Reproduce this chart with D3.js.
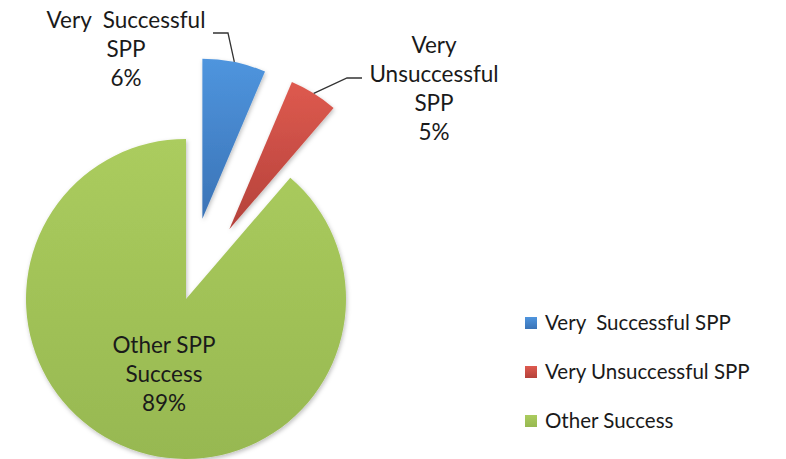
<!DOCTYPE html>
<html>
<head>
<meta charset="utf-8">
<script src="https://cdn.jsdelivr.net/npm/d3@7"></script>
<style>
  html, body { margin: 0; padding: 0; background: #fff; }
  svg { display: block; font-family: Lato, "Open Sans", sans-serif; }
</style>
</head>
<body>
<div id="chart"></div>
<script>
// data
const categories = ['Very  Successful SPP', 'Very Unsuccessful SPP', 'Other Success'];
const values = [6.4, 4.9, 88.7];
const labelLines = [
  ['Very  Successful', 'SPP'],
  ['Very', 'Unsuccessful', 'SPP'],
  ['Other SPP', 'Success']
];
const colors = [
  ['#4f95de', '#3a73b6'],
  ['#de5a4f', '#b4413a'],
  ['#abcc5e', '#97b851']
];

const width = 786, height = 459;
const cx = 186, cy = 299, radius = 160;
const explode = [82, 82, 0];
// label layout: centre x, first line y, leader elbow
const labelPos = [
  { x: 126, y: 20, elbow: [[213, 33], [228, 33]] },
  { x: 434, y: 45, elbow: [[362, 78], [347, 78]] },
  { x: 164, y: 345, elbow: null }
];

const svg = d3.select('#chart')
  .append('svg')
  .attr('width', width)
  .attr('height', height);

const defs = svg.append('defs');
colors.forEach((c, i) => {
  const g = defs.append('linearGradient')
    .attr('id', 'grad' + i)
    .attr('x1', 0).attr('y1', 0).attr('x2', 0).attr('y2', 1);
  g.append('stop').attr('offset', '0%').attr('stop-color', c[0]);
  g.append('stop').attr('offset', '100%').attr('stop-color', c[1]);
});
const shadow = defs.append('filter').attr('id', 'shadow')
  .attr('x', '-20%').attr('y', '-20%').attr('width', '140%').attr('height', '140%');
shadow.append('feDropShadow')
  .attr('dx', 1).attr('dy', 2).attr('stdDeviation', 2)
  .attr('flood-color', '#000').attr('flood-opacity', 0.25);

const pie = d3.pie().sort(null).value(d => d);
const arcs = pie(values);
const arc = d3.arc().innerRadius(0).outerRadius(radius);

function offset(d, i) {
  const a = (d.startAngle + d.endAngle) / 2;
  return [Math.sin(a) * explode[i], -Math.cos(a) * explode[i]];
}

const g = svg.append('g').attr('transform', `translate(${cx},${cy})`);

g.selectAll('path.slice')
  .data(arcs)
  .join('path')
  .attr('class', 'slice')
  .attr('transform', (d, i) => `translate(${offset(d, i)})`)
  .attr('d', arc)
  .attr('fill', (d, i) => `url(#grad${i})`)
  .attr('filter', 'url(#shadow)');

// leader lines
arcs.forEach((d, i) => {
  const p = labelPos[i];
  if (!p.elbow) return;
  const a = (d.startAngle + d.endAngle) / 2;
  const o = offset(d, i);
  const ex = cx + o[0] + Math.sin(a) * radius;
  const ey = cy + o[1] - Math.cos(a) * radius;
  svg.append('path')
    .attr('d', d3.line()([p.elbow[0], p.elbow[1], [ex, ey]]))
    .attr('fill', 'none')
    .attr('stroke', '#333')
    .attr('stroke-width', 1.3);
});

// data labels
arcs.forEach((d, i) => {
  const p = labelPos[i];
  const lines = labelLines[i].concat([Math.round(d.data) + '%']);
  const t = svg.append('text')
    .attr('text-anchor', 'middle')
    .attr('font-size', 22.5)
    .attr('fill', '#1a1a1a')
    .style('white-space', 'pre');
  lines.forEach((s, k) => {
    t.append('tspan')
      .attr('x', p.x)
      .attr('y', p.y + k * 29)
      .attr('dy', '0.35em')
      .text(s);
  });
});

// legend
const legend = svg.append('g').attr('transform', 'translate(525,317)');
const item = legend.selectAll('g')
  .data(categories)
  .join('g')
  .attr('transform', (d, i) => `translate(0,${i * 49})`);
item.append('rect')
  .attr('width', 12).attr('height', 12)
  .attr('fill', (d, i) => `url(#grad${i})`);
item.append('text')
  .attr('x', 20).attr('y', 11)
  .attr('dy', '0.1em')
  .attr('font-size', 20.5)
  .attr('fill', '#1a1a1a')
  .style('white-space', 'pre')
  .text(d => d);
</script>
</body>
</html>
